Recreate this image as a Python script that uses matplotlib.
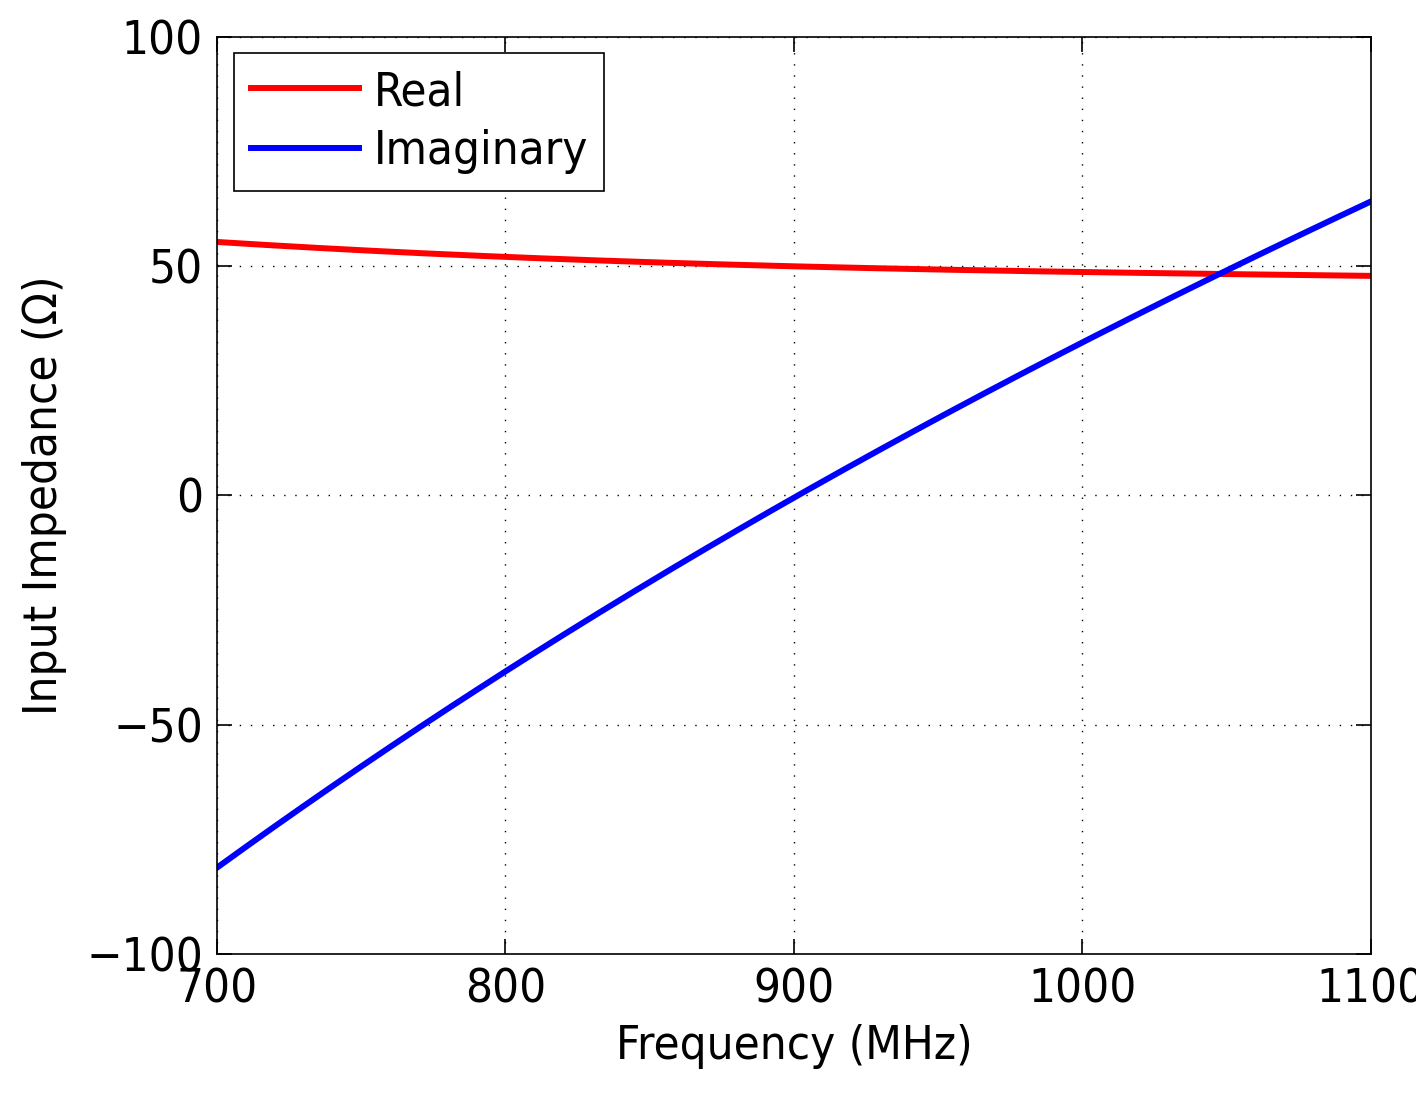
import matplotlib
matplotlib.use("Agg")
import matplotlib.pyplot as plt
import numpy as np

freq_mhz = [700, 750, 800, 850, 900, 950, 1000, 1050, 1100]
real_ohm = [55.3, 53.5, 52.0, 50.9, 50.0, 49.3, 48.7, 48.3, 47.9]
imag_ohm = [-81.2, -59.0, -38.5, -19.0, -0.3, 17.0, 33.3, 49.0, 64.2]

x_ticks = [700, 800, 900, 1000, 1100]
y_ticks = [-100, -50, 0, 50, 100]

plt.rcParams.update(
    {
        "font.family": "DejaVu Sans",
        "font.stretch": "condensed",
        "font.size": 34,
    }
)

fig = plt.figure(figsize=(14.16, 11.04), dpi=100)
ax = fig.add_axes([0.1532, 0.1359, 0.8150, 0.8306])

# smooth the read-off points for drawing
xs = np.linspace(700, 1100, 200)
real_fit = np.polyval(np.polyfit(freq_mhz, real_ohm, 3), xs)
imag_fit = np.polyval(np.polyfit(freq_mhz, imag_ohm, 3), xs)

ax.plot(xs, real_fit, color="#ff0000", linewidth=4.3, label="Real")
ax.plot(xs, imag_fit, color="#0000ff", linewidth=4.3, label="Imaginary")

ax.set_xlim(700, 1100)
ax.set_ylim(-100, 100)
ax.set_xticks(x_ticks)
ax.set_yticks(y_ticks)
ax.set_yticklabels(["\u2212100", "\u221250", "0", "50", "100"])
ax.tick_params(direction="in", top=True, right=True, length=11, width=1.2, pad=10)
ax.grid(True, linestyle=(0, (1, 7)), color="black", linewidth=1.0)
for spine in ax.spines.values():
    spine.set_linewidth(1.2)

ax.set_xlabel("Frequency (MHz)", labelpad=8)
ax.set_ylabel("Input Impedance (\u03a9)", labelpad=14)

leg = ax.legend(
    loc="upper left",
    bbox_to_anchor=(0.015, 0.982),
    fancybox=False,
    framealpha=1,
    edgecolor="black",
    handlelength=2.3,
    handletextpad=0.3,
    borderpad=0.35,
    labelspacing=0.3,
    borderaxespad=0,
)
leg.get_frame().set_linewidth(1.2)

fig.savefig("out.png", dpi=100)
